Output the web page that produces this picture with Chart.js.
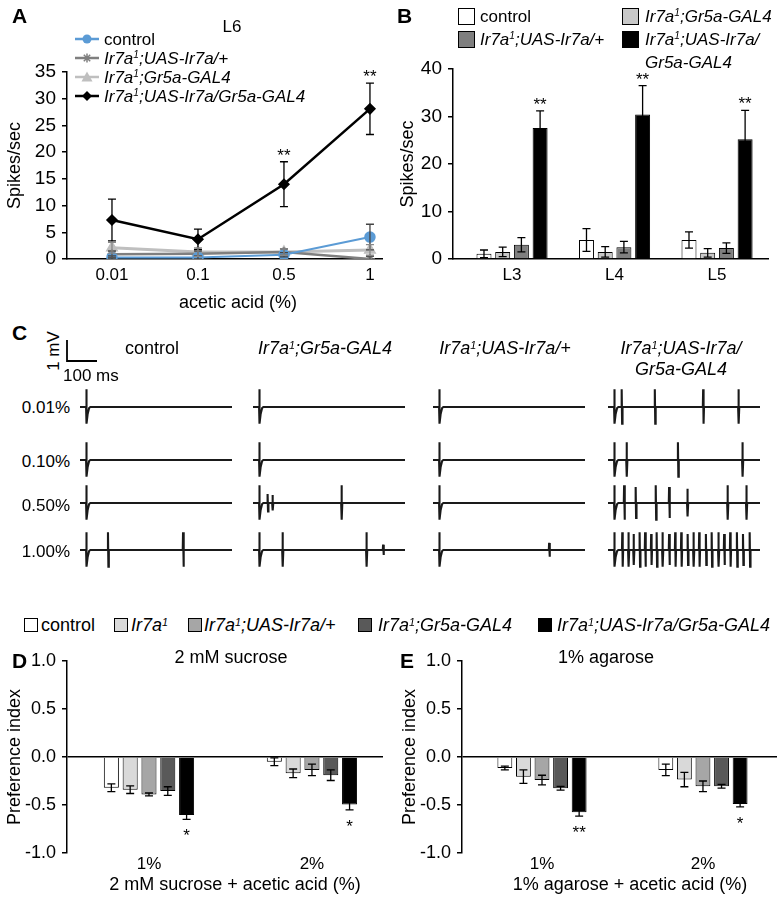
<!DOCTYPE html>
<html>
<head>
<meta charset="utf-8">
<script src="https://cdn.jsdelivr.net/npm/chart.js@4.4.1/dist/chart.umd.min.js"></script>
<style>
body { margin: 0; background: #fff; }
#fig { position: relative; width: 781px; height: 900px; font-family: "Liberation Sans", Arial, sans-serif; color: #000; overflow: hidden; }
#fig canvas { position: absolute; }
.t { position: absolute; white-space: nowrap; line-height: 1; }
.t sup { font-size: 0.6em; vertical-align: 0.5em; line-height: 0; }
.box { position: absolute; border: 1px solid #000; box-sizing: border-box; }
</style>
</head>
<body>
<div id="fig"></div>
<script>
// ---- panel A: L6, spikes/sec vs acetic acid
const doses = ['0.01', '0.1', '0.5', '1'];
const ctrlA = [0.3, 0.3, 0.8, 4.1];
const ctrlAErr = [0.3, 0.3, 0.4, 2.4];
const uasA = [0.9, 1.0, 1.3, 0.0];
const uasAErr = [0.6, 0.5, 0.6, 0.5];
const gr5aA = [2.1, 1.3, 1.3, 1.7];
const gr5aAErr = [1.0, 0.8, 0.6, 1.0];
const rescueA = [7.3, 3.7, 14.0, 28.1];
const rescueAErr = [3.9, 1.9, 4.2, 4.8];
// [dataset, index, text] - rescue line is dataset 0 (drawn on top)
const starsA = [[0, 2, '**'], [0, 3, '**']];

// ---- panel B: L3-L5 at 1% acetic acid
const sites = ['L3', 'L4', 'L5'];
const ctrlB = [1.1, 4.0, 4.0];
const ctrlBErr = [0.8, 2.4, 1.7];
const gr5aB = [1.5, 1.5, 1.3];
const gr5aBErr = [1.0, 1.1, 0.9];
const uasB = [3.0, 2.5, 2.3];
const uasBErr = [1.5, 1.2, 1.1];
const rescueB = [27.6, 30.4, 25.2];
const rescueBErr = [3.6, 6.1, 6.1];
const starsB = [[3, 0, '**'], [3, 1, '**'], [3, 2, '**']];

// ---- panel C: spike times (ms after stimulus) and relative size
const traceRows = ['0.01%', '0.10%', '0.50%', '1.00%'];
const spikesCtrl = [[], [], [], [[72, 1], [319, 1]]];
const spikesGr5a = [[], [], [[28, 0.5], [44, 0.45], [271, 1]], [[77, 1], [353, 1], [408, 0.3]]];
const spikesUas = [[], [], [], [[362, 0.4]]];
const spikesRescue = [
  [[25, 1], [134, 1], [293, 1], [409, 1]],
  [[41, 1], [210, 1], [422, 1]],
  [[33, 1], [71, 0.9], [137, 1], [181, 0.9], [241, 0.8], [373, 1], [435, 1]],
  [[27, 1], [47, 1], [64, 0.9], [84, 1], [102, 1], [122, 0.9], [140, 1], [159, 1], [181, 0.9], [201, 1], [221, 1],
   [242, 0.9], [261, 1], [280, 1], [302, 0.9], [321, 1], [343, 1], [362, 0.9], [382, 1], [404, 1], [424, 0.9], [446, 1]]
];
const artifact = [[0, 0], [0.6, 0.85], [2.2, -0.8], [5, -0.35], [10, -0.05], [14, 0]];

// ---- panels D, E: preference index
const concs = ['1%', '2%'];
const ctrlD = [-0.32, -0.05];
const ctrlDErr = [0.04, 0.04];
const ir7aD = [-0.34, -0.17];
const ir7aDErr = [0.04, 0.045];
const uasD = [-0.39, -0.135];
const uasDErr = [0.015, 0.06];
const gr5aD = [-0.355, -0.19];
const gr5aDErr = [0.045, 0.055];
const rescueD = [-0.605, -0.495];
const rescueDErr = [0.045, 0.055];
const starsD = [[4, 0, '*'], [4, 1, '*']];

const ctrlE = [-0.115, -0.135];
const ctrlEErr = [0.02, 0.06];
const ir7aE = [-0.205, -0.235];
const ir7aEErr = [0.07, 0.075];
const uasE = [-0.24, -0.305];
const uasEErr = [0.05, 0.055];
const gr5aE = [-0.325, -0.305];
const gr5aEErr = [0.02, 0.02];
const rescueE = [-0.575, -0.49];
const rescueEErr = [0.04, 0.03];
const starsE = [[4, 0, '**'], [4, 1, '*']];

const IR = 'Ir7a<sup>1</sup>;';
const fig = document.getElementById('fig');
Chart.defaults.font.family = '"Liberation Sans", Arial, sans-serif';
Chart.defaults.color = '#000';

const errorBars = {
  id: 'errorBars',
  afterDatasetsDraw(chart) {
    const { ctx, chartArea: a, scales } = chart;
    const y = scales.y;
    if (!y) return;
    ctx.save();
    ctx.beginPath();
    ctx.rect(a.left - 10, a.top - 30, a.right - a.left + 20, a.bottom - a.top + 30);
    ctx.clip();
    chart.data.datasets.forEach((ds, di) => {
      if (!ds.errors) return;
      chart.getDatasetMeta(di).data.forEach((el, i) => {
        const d = ds.data[i];
        const v = typeof d === 'object' ? d.y : d;
        const e = ds.errors[i];
        const x = el.x;
        const t = y.getPixelForValue(v + e);
        const b = y.getPixelForValue(v - e);
        ctx.strokeStyle = ds.errorColor || '#000';
        ctx.lineWidth = 1.3;
        ctx.beginPath();
        ctx.moveTo(x, t); ctx.lineTo(x, b);
        ctx.moveTo(x - 4, t); ctx.lineTo(x + 4, t);
        ctx.moveTo(x - 4, b); ctx.lineTo(x + 4, b);
        ctx.stroke();
      });
    });
    ctx.restore();
  }
};

const starMarks = {
  id: 'starMarks',
  afterDatasetsDraw(chart, args, opts) {
    if (!opts.marks) return;
    const { ctx, scales: { y } } = chart;
    ctx.save();
    ctx.font = '17px "Liberation Sans", Arial';
    ctx.textAlign = 'center';
    ctx.textBaseline = 'alphabetic';
    ctx.fillStyle = '#000';
    opts.marks.forEach(([di, i, s]) => {
      const ds = chart.data.datasets[di];
      const d = ds.data[i];
      const v = typeof d === 'object' ? d.y : d;
      const el = chart.getDatasetMeta(di).data[i];
      if (opts.below) ctx.fillText(s, el.x, y.getPixelForValue(v - ds.errors[i]) + 22);
      else ctx.fillText(s, el.x, y.getPixelForValue(v + ds.errors[i]) - 1);
    });
    ctx.restore();
  }
};
Chart.register(errorBars, starMarks);

function canvas(left, top, w, h) {
  const c = document.createElement('canvas');
  c.width = w; c.height = h;
  c.style.left = left + 'px'; c.style.top = top + 'px';
  c.style.width = w + 'px'; c.style.height = h + 'px';
  fig.appendChild(c);
  return c;
}

function txt(html, x, y, size, align, extra) {
  const d = document.createElement('div');
  d.className = 't';
  d.innerHTML = html;
  d.style.fontSize = size + 'px';
  d.style.left = x + 'px';
  d.style.top = y + 'px';
  const tx = align === 'center' ? '-50%' : align === 'right' ? '-100%' : '0';
  d.style.transform = 'translate(' + tx + ',-50%)' + (extra || '');
  fig.appendChild(d);
}

function box(x, y, s, fill) {
  const d = document.createElement('div');
  d.className = 'box';
  d.style.left = x + 'px'; d.style.top = (y - s / 2) + 'px';
  d.style.width = s + 'px'; d.style.height = s + 'px';
  d.style.background = fill;
  fig.appendChild(d);
}

function xAxis(labels, min, max, height, pad, size, border) {
  return {
    type: 'linear', min, max, offset: false,
    afterBuildTicks: s => { s.ticks = labels.map((l, i) => ({ value: i })); },
    ticks: { callback: v => labels[v], font: { size }, padding: pad, maxRotation: 0, autoSkip: false },
    grid: { display: false, drawTicks: false },
    border: { display: border, color: '#000', width: 1.5 },
    afterFit: s => { s.height = height; }
  };
}

function yAxis(min, max, step, title, width, titlePad, size, fmt, zeroLine) {
  return {
    min, max,
    ticks: { stepSize: step, font: { size }, padding: 6, callback: fmt },
    grid: {
      drawOnChartArea: !!zeroLine, drawTicks: true, tickLength: 5, lineWidth: 1.5, tickColor: '#000',
      color: c => (zeroLine && c.tick && c.tick.value === 0) ? '#000' : 'rgba(0,0,0,0)'
    },
    border: { color: '#000', width: 1.5 },
    title: { display: true, text: title, font: { size: 18 }, padding: { top: titlePad, bottom: 0 } },
    afterFit: s => { s.width = width; }
  };
}

function lineSet(label, vals, errs, color, style, r, w, errColor) {
  return {
    label, data: vals.map((v, i) => ({ x: i, y: v })), errors: errs, errorColor: errColor,
    borderColor: color, backgroundColor: color, pointBackgroundColor: color, pointBorderColor: color,
    pointStyle: style, pointRadius: r, pointBorderWidth: 1.5, borderWidth: w, tension: 0
  };
}

function barSet(label, vals, errs, fill) {
  return { label, data: vals.map((v, i) => ({ x: i, y: v })), errors: errs, backgroundColor: fill, borderColor: '#000', borderWidth: 1 };
}

const common = { responsive: false, animation: false, events: [] };

// panel A
new Chart(canvas(0, 0, 390, 320), {
  type: 'line',
  data: {
    datasets: [
      lineSet('Ir7a1;UAS-Ir7a/Gr5a-GAL4', rescueA, rescueAErr, '#000', 'rectRot', 5, 2.5, '#000'),
      lineSet('control', ctrlA, ctrlAErr, '#5b9bd5', 'circle', 5, 2, '#444'),
      lineSet('Ir7a1;UAS-Ir7a/+', uasA, uasAErr, '#7f7f7f', 'star', 5, 2.5, '#555'),
      lineSet('Ir7a1;Gr5a-GAL4', gr5aA, gr5aAErr, '#bfbfbf', 'triangle', 6, 3, '#888')
    ]
  },
  options: Object.assign({}, common, {
    layout: { padding: { left: 0, top: 72, right: 8, bottom: 0 } },
    plugins: { legend: { display: false }, tooltip: { enabled: false }, starMarks: { marks: starsA } },
    scales: {
      x: xAxis(doses, -0.523, 3.14, 61, 6, 17, true),
      y: yAxis(0, 35, 5, 'Spikes/sec', 67, 4, 19)
    }
  })
});

// panel B
new Chart(canvas(390, 0, 391, 320), {
  type: 'bar',
  data: {
    datasets: [
      barSet('control', ctrlB, ctrlBErr, '#ffffff'),
      barSet('Ir7a1;Gr5a-GAL4', gr5aB, gr5aBErr, '#c8c8c8'),
      barSet('Ir7a1;UAS-Ir7a/+', uasB, uasBErr, '#7f7f7f'),
      barSet('Ir7a1;UAS-Ir7a/Gr5a-GAL4', rescueB, rescueBErr, '#000000')
    ]
  },
  options: Object.assign({}, common, {
    datasets: { bar: { categoryPercentage: 0.73, barPercentage: 0.8 } },
    layout: { padding: { left: 0, top: 69, right: 13, bottom: 0 } },
    plugins: { legend: { display: false }, tooltip: { enabled: false }, starMarks: { marks: starsB } },
    scales: {
      x: xAxis(sites, -0.576, 2.497, 61, 6, 17, true),
      y: yAxis(0, 40, 10, 'Spikes/sec', 63, 7, 19)
    }
  })
});

// panels D and E
function prefChart(left, width, yw, titlePad, min, max, right, sets, stars) {
  const fills = ['#ffffff', '#d9d9d9', '#a6a6a6', '#595959', '#000000'];
  const names = ['control', 'Ir7a1', 'Ir7a1;UAS-Ir7a/+', 'Ir7a1;Gr5a-GAL4', 'Ir7a1;UAS-Ir7a/Gr5a-GAL4'];
  new Chart(canvas(left, 640, width, 260), {
    type: 'bar',
    data: { datasets: sets.map((s, k) => barSet(names[k], s[0], s[1], fills[k])) },
    options: Object.assign({}, common, {
      datasets: { bar: { categoryPercentage: 0.577, barPercentage: 0.8 } },
      layout: { padding: { left: 0, top: 21, right: right, bottom: 5 } },
      plugins: { legend: { display: false }, tooltip: { enabled: false }, starMarks: { marks: stars, below: true } },
      scales: {
        x: xAxis(concs, min, max, 42, 1, 17, false),
        y: yAxis(-1, 1, 0.5, 'Preference index', yw, titlePad, 18, v => v.toFixed(1), true)
      }
    })
  });
}
prefChart(0, 390, 67, 4, -0.503, 1.436, 7,
  [[ctrlD, ctrlDErr], [ir7aD, ir7aDErr], [uasD, uasDErr], [gr5aD, gr5aDErr], [rescueD, rescueDErr]], starsD);
prefChart(390, 391, 72, 9, -0.497, 1.46, 4,
  [[ctrlE, ctrlEErr], [ir7aE, ir7aEErr], [uasE, uasEErr], [gr5aE, gr5aEErr], [rescueE, rescueEErr]], starsE);

// panel C traces
const spikesC = [spikesCtrl, spikesGr5a, spikesUas, spikesRescue];
const traceLeft = [80, 253, 433, 608];
const traceBase = [407, 460, 503, 550];
function tracePoints(spikes) {
  const pts = [{ x: -20, y: 0 }];
  artifact.forEach(([t, v]) => pts.push({ x: t, y: v }));
  spikes.forEach(([t, a]) => {
    pts.push({ x: t - 1, y: 0 }, { x: t, y: 0.85 * a }, { x: t + 1.4, y: -0.8 * a }, { x: t + 2.8, y: 0 });
  });
  pts.push({ x: 480, y: 0 });
  return pts;
}
spikesC.forEach((col, ci) => {
  col.forEach((sp, ri) => {
    new Chart(canvas(traceLeft[ci], traceBase[ri] - 23, 152, 46), {
      type: 'line',
      data: { datasets: [{ data: tracePoints(sp), borderColor: '#1a1a1a', borderWidth: 2.1, pointRadius: 0, tension: 0 }] },
      options: Object.assign({}, common, {
        layout: { padding: 0 },
        plugins: { legend: { display: false }, tooltip: { enabled: false } },
        scales: {
          x: { type: 'linear', min: -20, max: 480, display: false },
          y: { min: -1.1, max: 1.1, display: false }
        }
      })
    });
  });
});

// scale bar
const sb = document.createElementNS('http://www.w3.org/2000/svg', 'svg');
sb.setAttribute('width', 40); sb.setAttribute('height', 30);
sb.style.position = 'absolute'; sb.style.left = '60px'; sb.style.top = '335px';
sb.innerHTML = '<path d="M7 5 V26 H37" fill="none" stroke="#000" stroke-width="1.8"/>';
fig.appendChild(sb);

// panel letters
[['A', 12, 15], ['B', 397, 15], ['C', 12, 332], ['D', 12, 660], ['E', 400, 660]].forEach(([s, x, y]) => {
  txt('<b>' + s + '</b>', x, y, 21, 'left');
});

// panel A texts + legend
txt('L6', 232, 26, 17, 'center');
txt('acetic acid (%)', 238, 302, 18, 'center');
const legA = [
  ['control', '#5b9bd5', 'circle', 39],
  ['<i>' + IR + 'UAS-Ir7a/+</i>', '#7f7f7f', 'star', 58],
  ['<i>' + IR + 'Gr5a-GAL4</i>', '#bfbfbf', 'triangle', 77],
  ['<i>' + IR + 'UAS-Ir7a/Gr5a-GAL4</i>', '#000', 'diamond', 96]
];
legA.forEach(([label, color, mk, y]) => {
  const s = document.createElementNS('http://www.w3.org/2000/svg', 'svg');
  s.setAttribute('width', 26); s.setAttribute('height', 14);
  s.style.position = 'absolute'; s.style.left = '74px'; s.style.top = (y - 7) + 'px';
  let m = '';
  if (mk === 'circle') m = '<circle cx="13" cy="7" r="4.5" fill="' + color + '"/>';
  if (mk === 'star') m = '<path d="M8.5 7H17.5M13 2.5V11.5M9.8 3.8L16.2 10.2M16.2 3.8L9.8 10.2" stroke="' + color + '" stroke-width="1.5"/>';
  if (mk === 'triangle') m = '<path d="M13 1.5L18.5 11.5H7.5Z" fill="' + color + '"/>';
  if (mk === 'diamond') m = '<path d="M13 2L18 7L13 12L8 7Z" fill="' + color + '"/>';
  s.innerHTML = '<path d="M1 7H25" stroke="' + color + '" stroke-width="2.5"/>' + m;
  fig.appendChild(s);
  txt(label, 104, y, 17, 'left');
});

// panel B legend
box(458, 16, 17, '#ffffff'); txt('control', 480, 16, 17, 'left');
box(622, 16, 17, '#c8c8c8'); txt('<i>' + IR + 'Gr5a-GAL4</i>', 645, 16, 17, 'left');
box(458, 39, 17, '#7f7f7f'); txt('<i>' + IR + 'UAS-Ir7a/+</i>', 480, 39, 17, 'left');
box(622, 39, 17, '#000000'); txt('<i>' + IR + 'UAS-Ir7a/</i>', 645, 39, 17, 'left');
txt('<i>Gr5a-GAL4</i>', 645, 62, 17, 'left');

// panel C labels
txt('1 mV', 53, 351, 17, 'center', ' rotate(-90deg)');
txt('100 ms', 63, 375, 17, 'left');
txt('control', 152, 348, 18, 'center');
txt('<i>' + IR + 'Gr5a-GAL4</i>', 325, 348, 18, 'center');
txt('<i>' + IR + 'UAS-Ir7a/+</i>', 505, 348, 18, 'center');
txt('<i>' + IR + 'UAS-Ir7a/</i>', 681, 348, 18, 'center');
txt('<i>Gr5a-GAL4</i>', 681, 369, 18, 'center');
traceRows.forEach((r, i) => txt(r, 70, [407, 461, 505, 551][i], 17, 'right'));

// panels D, E legend + titles
const legD = [
  ['control', '#ffffff', 24, 41],
  ['<i>Ir7a<sup>1</sup></i>', '#d9d9d9', 114, 131],
  ['<i>' + IR + 'UAS-Ir7a/+</i>', '#a6a6a6', 188, 204],
  ['<i>' + IR + 'Gr5a-GAL4</i>', '#595959', 358, 378],
  ['<i>' + IR + 'UAS-Ir7a/Gr5a-GAL4</i>', '#000000', 538, 557]
];
legD.forEach(([label, fill, bx, tx]) => { box(bx, 625, 14, fill); txt(label, tx, 625, 18, 'left'); });
txt('2 mM sucrose', 231, 657, 18, 'center');
txt('1% agarose', 606, 657, 18, 'center');
txt('2 mM sucrose + acetic acid (%)', 235, 884, 18, 'center');
txt('1% agarose + acetic acid (%)', 630, 884, 18, 'center');
</script>
</body>
</html>
